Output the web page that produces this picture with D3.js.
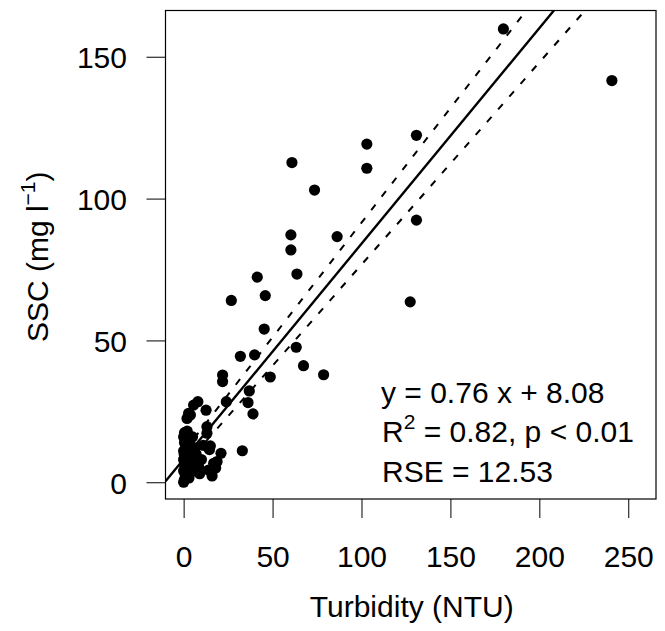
<!DOCTYPE html>
<html>
<head>
<meta charset="utf-8">
<script src="https://cdn.jsdelivr.net/npm/d3@7"></script>
<style>
  body { margin: 0; background: #fff; }
  text { font-family: "Liberation Sans", Arial, sans-serif; fill: #000; }
</style>
</head>
<body>
<div id="chart"></div>
<script>
// turbidity (NTU) vs SSC (mg/l) samples
const turbidity = [179.8, 240.8, 130.9, 103, 60.9, 103, 73.6, 130.9, 60.3, 86.3,
  60.3, 63.7, 41.4, 45.9, 26.8, 127.4, 45.3, 63.3, 39.9, 31.9,
  67.4, 78.7, 21.9, 48.7, 21.9, 36.9, 24, 36.2, 39, 33,
  21, 8, 5.6, 12.6, 3.8, 1.9, 2.8, 13.1, 13.1, 15,
  14.5, 16.9, 14, 16, 8.4, 10, 7, 5, 6, 18,
  11, 9, 18.8, 0, 0.5, 1, 0, 1.5, 0.5, 2,
  0, 1, 2.5, 0, 1, 2, 0.5, 1.5, 0, 1,
  2, 0.5, 3, 1, 2, 3, 3.5, 4, 4, 5,
  6, 3, 0.3, 2.5, 1];
const ssc = [159.8, 141.6, 122.3, 119.2, 112.7, 110.7, 103, 92.4, 87.2, 86.6,
  81.9, 73.4, 72.3, 65.8, 64.1, 63.6, 54, 47.6, 44.9, 44.4,
  41.1, 37.9, 37.8, 37.1, 35.5, 32.2, 28.4, 28.1, 24.1, 11.1,
  10.2, 28.4, 27.2, 25.4, 23.7, 22.5, 24.3, 19.6, 17.3, 12.8,
  11.5, 6.7, 4.3, 2.2, 5.5, 8, 10, 7, 12, 5,
  13, 3, 7.3, 0, 1, 2.5, 4, 5, 6, 7,
  8, 9, 10, 11, 12, 13, 14, 15, 16, 17,
  18, 17.5, 16, 6.5, 3, 11, 14, 8, 5, 16,
  4, 1.5, 10, 8.5, 4];

// fitted line y = a x + b
const fitSlope = 0.76;
const fitIntercept = 8.08;

// dashed confidence band
const bandX = [0, 50, 100, 150, 200, 241];
const bandUpper = [10.7, 51.1, 91.5, 131.9, 172.2, 205.2];
const bandLower = [5.5, 41.1, 76.7, 112.3, 148.0, 177.2];

const xTicks = [0, 50, 100, 150, 200, 250];
const yTicks = [0, 50, 100, 150];

const W = 665, H = 631;
const box = { left: 165.5, right: 656, top: 10.5, bottom: 499 };
const fs = 30;

const svg = d3.select('#chart').append('svg')
  .attr('width', W)
  .attr('height', H);

const x = d3.scaleLinear().domain([-10.2, 265.6]).range([box.left, box.right]);
const y = d3.scaleLinear().domain([-5.9, 166.3]).range([box.bottom, box.top]);

svg.append('clipPath').attr('id', 'plotClip')
  .append('rect')
  .attr('x', box.left).attr('y', box.top)
  .attr('width', box.right - box.left)
  .attr('height', box.bottom - box.top);

// points
svg.append('g')
  .selectAll('circle')
  .data(turbidity.map((t, i) => [t, ssc[i]]))
  .join('circle')
  .attr('cx', d => x(d[0]))
  .attr('cy', d => y(d[1]))
  .attr('r', 5.6)
  .attr('fill', '#000');

const lines = svg.append('g').attr('clip-path', 'url(#plotClip)');

// regression line across the whole plot region (abline)
const xd = x.domain();
lines.append('line')
  .attr('x1', x(xd[0])).attr('y1', y(fitSlope * xd[0] + fitIntercept))
  .attr('x2', x(xd[1])).attr('y2', y(fitSlope * xd[1] + fitIntercept))
  .attr('stroke', '#000')
  .attr('stroke-width', 2.4);

const bandLine = d3.line().x(d => x(d[0])).y(d => y(d[1]));
[bandUpper, bandLower].forEach(b => {
  lines.append('path')
    .attr('d', bandLine(bandX.map((v, i) => [v, b[i]])))
    .attr('fill', 'none')
    .attr('stroke', '#000')
    .attr('stroke-width', 2)
    .attr('stroke-dasharray', '7,10');
});

// box
svg.append('rect')
  .attr('x', box.left).attr('y', box.top)
  .attr('width', box.right - box.left)
  .attr('height', box.bottom - box.top)
  .attr('fill', 'none')
  .attr('stroke', '#000')
  .attr('stroke-width', 1.2);

// axes
const xAxis = svg.append('g')
  .attr('transform', `translate(0, ${box.bottom})`)
  .call(d3.axisBottom(x).tickValues(xTicks).tickSize(19).tickPadding(28).tickSizeOuter(0));
const yAxis = svg.append('g')
  .attr('transform', `translate(${box.left}, 0)`)
  .call(d3.axisLeft(y).tickValues(yTicks).tickSize(19).tickPadding(19.5).tickSizeOuter(0));

[xAxis, yAxis].forEach(a => {
  a.select('.domain').remove();
  a.selectAll('line').attr('stroke', '#000').attr('stroke-width', 1);
  a.selectAll('text')
    .attr('font-size', fs)
    .attr('font-family', '"Liberation Sans", Arial, sans-serif')
    .attr('fill', '#000');
});
yAxis.selectAll('text').attr('dy', '0.36em');

// axis titles
svg.append('text')
  .attr('x', (box.left + box.right) / 2 + 1)
  .attr('y', 617)
  .attr('text-anchor', 'middle')
  .attr('font-size', fs)
  .text('Turbidity (NTU)');

const yTitle = svg.append('text')
  .attr('transform', `translate(48, ${(box.top + box.bottom) / 2 + 2}) rotate(-90)`)
  .attr('text-anchor', 'middle')
  .attr('font-size', fs);
yTitle.append('tspan').text('SSC (mg l');
yTitle.append('tspan').attr('font-size', fs * 0.7).attr('dy', -13).text('\u22121');
yTitle.append('tspan').attr('dy', 13).text(')');

// fit annotation
const ann = svg.append('g').attr('font-size', fs);
ann.append('text').attr('x', 381).attr('y', 402.5).text('y = 0.76 x + 8.08');
const r2 = ann.append('text').attr('x', 382).attr('y', 442);
r2.append('tspan').text('R');
r2.append('tspan').attr('font-size', fs * 0.7).attr('dy', -13).text('2');
r2.append('tspan').attr('dy', 13).text(' = 0.82, p < 0.01');
ann.append('text').attr('x', 382).attr('y', 481.5).text('RSE = 12.53');
</script>
</body>
</html>
